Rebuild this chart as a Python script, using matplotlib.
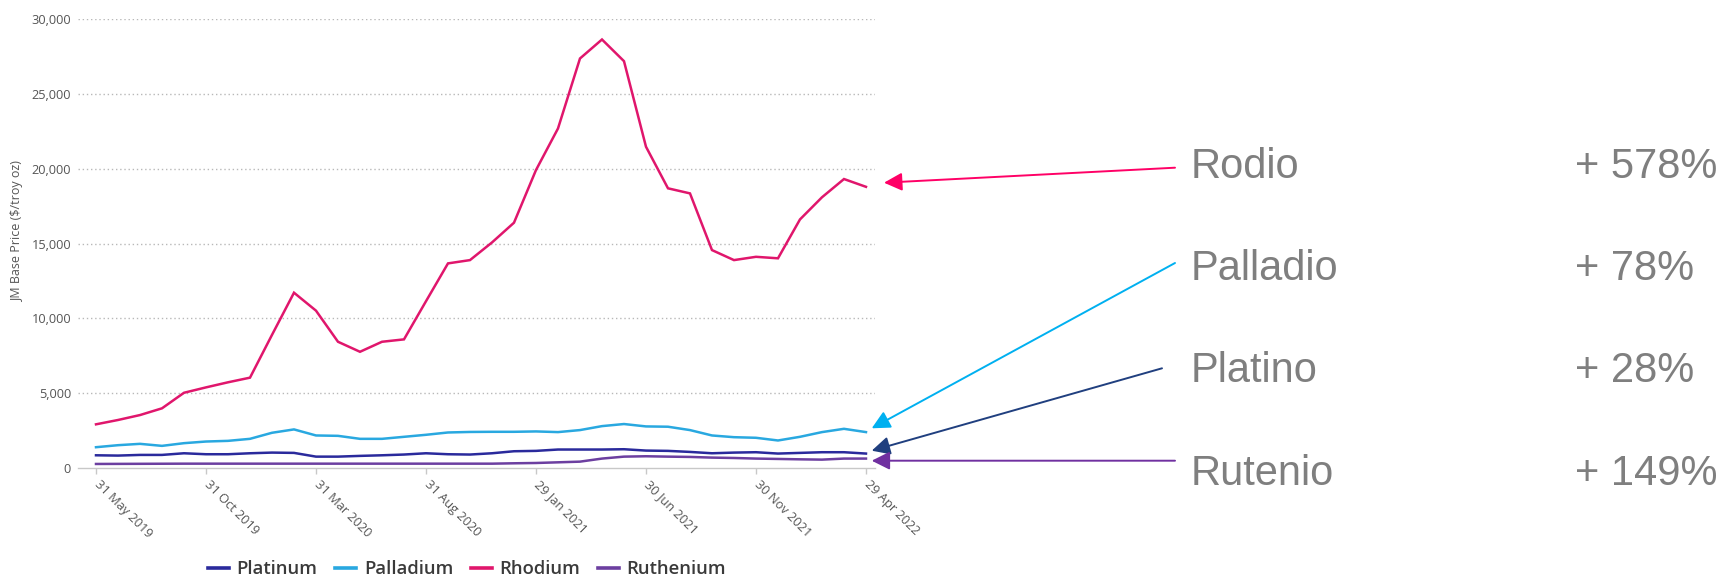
import matplotlib
matplotlib.use("Agg")
import matplotlib.pyplot as plt
from matplotlib.lines import Line2D
from matplotlib.transforms import ScaledTranslation

# ---------------- data ----------------
months = ["May 2019", "Jun 2019", "Jul 2019", "Aug 2019", "Sep 2019", "Oct 2019",
          "Nov 2019", "Dec 2019", "Jan 2020", "Feb 2020", "Mar 2020", "Apr 2020",
          "May 2020", "Jun 2020", "Jul 2020", "Aug 2020", "Sep 2020", "Oct 2020",
          "Nov 2020", "Dec 2020", "Jan 2021", "Feb 2021", "Mar 2021", "Apr 2021",
          "May 2021", "Jun 2021", "Jul 2021", "Aug 2021", "Sep 2021", "Oct 2021",
          "Nov 2021", "Dec 2021", "Jan 2022", "Feb 2022", "Mar 2022", "Apr 2022"]

platinum = [850, 830, 875, 875, 985, 920, 920, 985, 1030, 1010, 760, 760,
            810, 850, 900, 985, 920, 900, 985, 1120, 1145, 1235, 1235, 1235,
            1255, 1165, 1145, 1075, 985, 1030, 1055, 965, 1010, 1055, 1055, 965]
palladium = [1390, 1525, 1615, 1480, 1660, 1770, 1815, 1950, 2355, 2580, 2175, 2150,
             1950, 1950, 2085, 2220, 2375, 2410, 2420, 2420, 2445, 2400, 2535, 2800,
             2940, 2780, 2760, 2535, 2175, 2060, 2020, 1840, 2085, 2400, 2620, 2400]
rhodium = [2920, 3210, 3540, 3990, 5030, 5390, 5730, 6040, 8900, 11720, 10520, 8440,
           7770, 8440, 8600, 11150, 13680, 13900, 15080, 16400, 19920, 22700, 27380, 28650,
           27200, 21480, 18700, 18360, 14570, 13900, 14120, 14020, 16620, 18100, 19320, 18800]
ruthenium = [270, 275, 280, 285, 290, 290, 290, 290, 290, 290, 290, 290,
             290, 290, 290, 290, 290, 290, 290, 315, 335, 380, 425, 630,
             760, 785, 760, 740, 695, 670, 630, 605, 580, 560, 630, 630]

tick_idx = [0, 5, 10, 15, 20, 25, 30, 35]
tick_labels = ["31 May 2019", "31 Oct 2019", "31 Mar 2020", "31 Aug 2020",
               "29 Jan 2021", "30 Jun 2021", "30 Nov 2021", "29 Apr 2022"]
y_ticks = [0, 5000, 10000, 15000, 20000, 25000, 30000]
y_tick_labels = ["0", "5,000", "10,000", "15,000", "20,000", "25,000", "30,000"]

series_names = ["Platinum", "Palladium", "Rhodium", "Ruthenium"]
series_colors = ["#2a2a9c", "#29a8e0", "#e0166c", "#6c3fa0"]

ann_names = ["Rodio", "Palladio", "Platino", "Rutenio"]
ann_pcts = ["+ 578%", "+ 78%", "+ 28%", "+ 149%"]
ann_colors = ["#ff0066", "#00b0f0", "#203f7f", "#7030a0"]
# arrow tips (data coords: month index, price)
ann_tip_x = [35.82, 35.26, 35.26, 35.26]
ann_tip_y = [19075, 2654, 1157, 488]

# ---------------- figure ----------------
W, H = 1722, 575
fig = plt.figure(figsize=(W / 100, H / 100), dpi=100)
ax = fig.add_axes([78 / W, 1 - 468 / H, (875 - 78) / W, (468 - 19.3) / H])

x = list(range(len(months)))
for name, vals, col in zip(series_names, [platinum, palladium, rhodium, ruthenium], series_colors):
    ax.plot(x, vals, color=col, lw=1.8, label=name, solid_joinstyle="miter", zorder=3)

ax.set_xlim(-0.818, 35.41)
ax.set_ylim(0, 30000)

tick_font = dict(family=["Open Sans", "DejaVu Sans"], size=9.2, color="#555555")
ax.set_yticks(y_ticks)
ax.set_yticklabels(y_tick_labels, **tick_font)
ax.tick_params(axis="y", length=0, pad=5)

ax.set_xticks(tick_idx)
ax.set_xticklabels(tick_labels, rotation=-45, ha="left", va="top",
                   rotation_mode="anchor", **tick_font)
ax.tick_params(axis="x", length=4, width=1, color="#c8c8c8", pad=3)
shift = ScaledTranslation(4 / 72, 0, fig.dpi_scale_trans)
for lab in ax.get_xticklabels():
    lab.set_transform(lab.get_transform() + shift)

ax.yaxis.grid(True, linestyle=(0, (1, 2)), color="#b8b8b8", lw=1)
ax.set_axisbelow(True)
for s in ["top", "right", "left"]:
    ax.spines[s].set_visible(False)
ax.spines["bottom"].set_color("#c8c8c8")
ax.spines["bottom"].set_linewidth(1)
ax.get_ygridlines()[0].set_visible(False)

fig.text(18 / W, 1 - 232 / H, "JM Base Price ($/troy oz)", rotation=90,
         ha="center", va="center", family=["Open Sans", "DejaVu Sans"],
         size=9, color="#555555")

handles = [Line2D([0], [0], color=c, lw=2.6) for c in series_colors]
leg = fig.legend(handles, series_names, loc="center", ncol=4, frameon=False,
                 bbox_to_anchor=(467 / W, 1 - 569 / H),
                 prop=dict(family=["Open Sans", "DejaVu Sans"], size=13.3, weight="semibold"),
                 handlelength=1.15, handletextpad=0.4, columnspacing=0.95)
for t in leg.get_texts():
    t.set_color("#3a3a3a")

# ---------------- annotations ----------------
tail_px = [(1175, H - 167.7), (1175, H - 263), (1162, H - 368.3), (1175, H - 460.7)]
baselines = [178.3, 280, 382, 485]
for name, pct, col, tx, ty, tail, bl in zip(ann_names, ann_pcts, ann_colors,
                                            ann_tip_x, ann_tip_y, tail_px, baselines):
    ax.annotate("", xy=(tx, ty), xycoords="data",
                xytext=tail, textcoords="figure pixels",
                arrowprops=dict(arrowstyle="-|>,head_length=1.1,head_width=0.55",
                                color=col, lw=1.4, shrinkA=0, shrinkB=0,
                                mutation_scale=10),
                annotation_clip=False)
    fig.text(1191 / W, 1 - bl / H, name, ha="left", va="baseline",
             family=["Liberation Sans", "DejaVu Sans"], size=30, color="#7f7f7f")
    fig.text(1575 / W, 1 - bl / H, pct, ha="left", va="baseline",
             family=["Liberation Sans", "DejaVu Sans"], size=30, color="#7f7f7f")

fig.savefig("out.png", dpi=100, facecolor="white")
